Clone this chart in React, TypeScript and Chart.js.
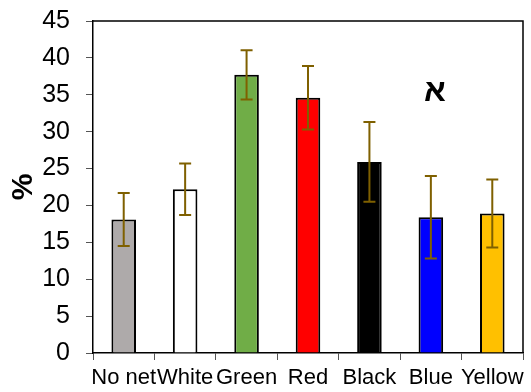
import React, { useEffect, useRef } from "react";
import { Chart, registerables } from "chart.js";

Chart.register(...registerables);

const categories = ["No net", "White", "Green", "Red", "Black", "Blue", "Yellow"];
const values = [18.1, 22.2, 37.7, 34.6, 25.9, 18.4, 18.9];
const errors = [3.6, 3.5, 3.35, 4.3, 5.4, 5.6, 4.6];
const barColors = ["#AEAAAA", "#FFFFFF", "#70AD47", "#FF0000", "#000000", "#0000FF", "#FFC000"];
const yTicks = [0, 5, 10, 15, 20, 25, 30, 35, 40, 45];
const annotationText = "א";
const annotationAt = { index: 5, value: 35.3 };

const FONT = "'Liberation Sans', Arial, sans-serif";

const errorBarPlugin = {
  id: "errorBars",
  afterDatasetsDraw(chart: any) {
    const ctx = chart.ctx;
    const meta = chart.getDatasetMeta(0);
    const y = chart.scales.y;
    ctx.save();
    ctx.strokeStyle = "#7F6000";
    ctx.lineWidth = 2;
    meta.data.forEach((bar: any, i: number) => {
      const x = bar.x;
      const top = y.getPixelForValue(values[i] + errors[i]);
      const bot = y.getPixelForValue(values[i] - errors[i]);
      ctx.beginPath();
      ctx.moveTo(x, top);
      ctx.lineTo(x, bot);
      ctx.moveTo(x - 6, top);
      ctx.lineTo(x + 6, top);
      ctx.moveTo(x - 6, bot);
      ctx.lineTo(x + 6, bot);
      ctx.stroke();
    });
    ctx.restore();
  },
};

const framePlugin = {
  id: "frame",
  afterDraw(chart: any) {
    const { ctx, chartArea } = chart;
    const xs = chart.scales.x;
    const ys = chart.scales.y;
    ctx.save();
    ctx.strokeStyle = "#000";
    ctx.lineWidth = 1.5;
    ctx.beginPath();
    ctx.moveTo(chartArea.left, chartArea.top);
    ctx.lineTo(chartArea.right, chartArea.top);
    ctx.lineTo(chartArea.right, chartArea.bottom);
    ctx.stroke();
    ctx.fillStyle = "#000";
    ctx.font = `bold 32px ${FONT}`;
    ctx.textAlign = "center";
    ctx.textBaseline = "middle";
    ctx.fillText(annotationText, xs.getPixelForValue(annotationAt.index) + 4, ys.getPixelForValue(annotationAt.value));
    ctx.restore();
  },
};

export default function App() {
  const ref = useRef<HTMLCanvasElement>(null);
  useEffect(() => {
    if (!ref.current) return;
    const chart = new Chart(ref.current, {
      type: "bar",
      data: {
        labels: categories,
        datasets: [
          {
            data: values,
            backgroundColor: barColors,
            borderColor: "#000",
            borderWidth: 2,
            categoryPercentage: 1,
            barPercentage: 0.4,
          },
        ],
      },
      options: {
        responsive: false,
        animation: false,
        layout: { padding: { left: 0, right: 8, top: 21, bottom: 0 } },
        plugins: { legend: { display: false }, tooltip: { enabled: false } },
        scales: {
          x: {
            afterFit: (axis: any) => {
              axis.height = 39;
              axis.paddingLeft = 0;
              axis.paddingRight = 0;
            },
            grid: { display: true, drawOnChartArea: false, drawTicks: true, tickLength: 7, color: "#555", offset: true },
            border: { display: true, color: "#000", width: 1.5 },
            ticks: { color: "#000", font: { family: FONT, size: 22 }, padding: 5, maxRotation: 0, autoSkip: false },
          },
          y: {
            min: 0,
            max: 45,
            afterBuildTicks: (axis: any) => {
              axis.ticks = yTicks.map((v) => ({ value: v }));
            },
            afterFit: (axis: any) => {
              axis.width = 93;
              axis.paddingTop = 0;
              axis.paddingBottom = 0;
            },
            grid: { display: true, drawOnChartArea: false, drawTicks: true, tickLength: 7, color: "#555" },
            border: { display: true, color: "#000", width: 1.5 },
            ticks: { color: "#000", font: { family: FONT, size: 25 }, padding: 16 },
            title: { display: true, text: "%", color: "#000", font: { family: FONT, size: 30, weight: "bold" }, padding: 6 },
          },
        },
      },
      plugins: [errorBarPlugin, framePlugin],
    });
    return () => chart.destroy();
  }, []);
  return (
    <div style={{ position: "absolute", left: 0, top: 0, width: 531, height: 392, background: "#fff" }}>
      <canvas ref={ref} width={531} height={392} />
    </div>
  );
}
